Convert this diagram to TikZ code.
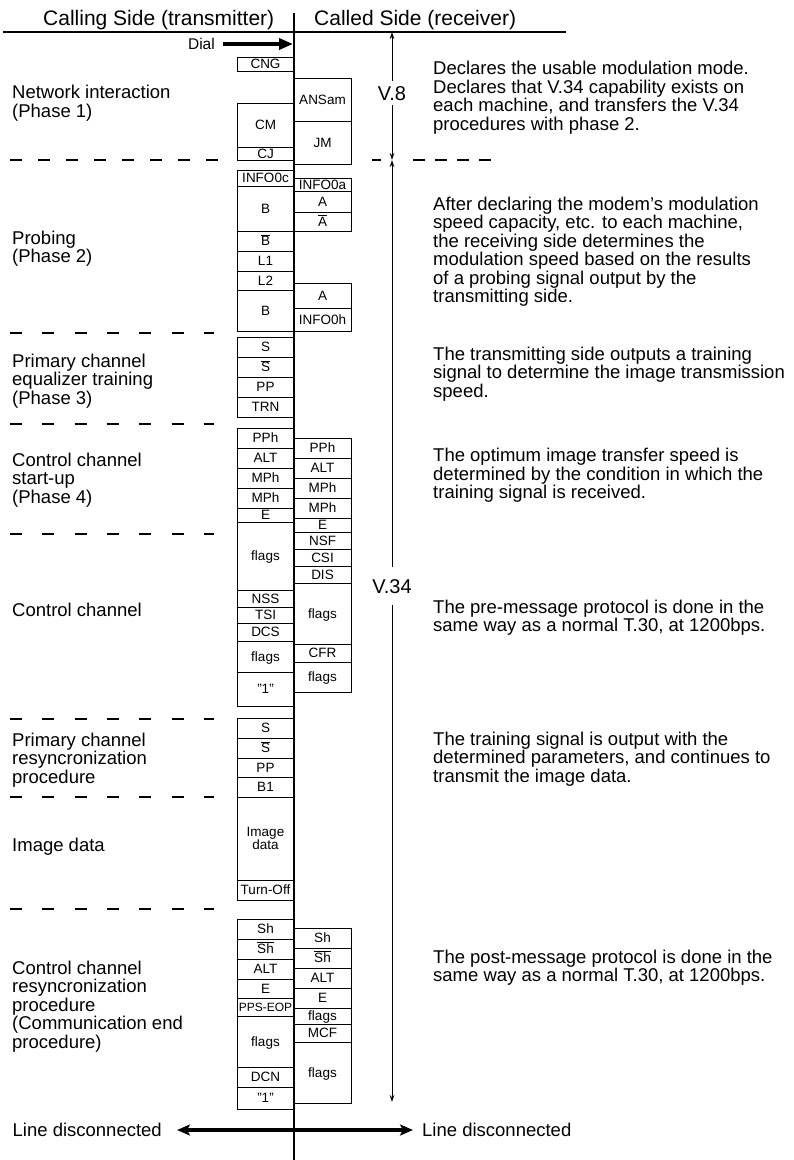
\documentclass[tikz,border=0pt]{standalone}
\usepackage{fontspec}
\setmainfont{Liberation Sans}
\usetikzlibrary{arrows.meta}
\newcommand\LB[4]{\node[bx, minimum height={(#3-#2)*1pt}] (#1) at (265.5,{(#2+#3)/2}) {#4};}
\newcommand\RB[4]{\node[bx, minimum height={(#3-#2)*1pt}] (#1) at (322.5,{(#2+#3)/2}) {#4};}
\newcommand\ovl[1]{$\overline{\mbox{#1}}$}
\begin{document}
\begin{tikzpicture}[x=1pt,y=-1pt,
  bx/.style={draw, line width=0.8pt, inner sep=0pt, minimum width=57pt, text height=9.7pt, text depth=0pt, font=\fontsize{13.5}{14}\selectfont},
  txt/.style={inner sep=0pt, align=left, font=\fontsize{18.5}{18.5}\selectfont, anchor=base west},
  hdr/.style={inner sep=0pt, font=\fontsize{21}{21}\selectfont, anchor=base west},
  vlab/.style={fill=white, inner xsep=1pt, text height=14.3pt, text depth=0pt, font=\fontsize{20}{20}\selectfont},
  dashl/.style={line width=1.2pt, dash pattern=on 12pt off 20.3pt},
  thinarr/.style={line width=0.9pt, {Stealth[length=7pt,width=4.5pt]}-{Stealth[length=7pt,width=4.5pt]}},
  bigarr/.style={line width=4pt}
]
\useasboundingbox[fill=white] (0,0) rectangle (793,1160);

% headers
\node[hdr] (hcall) at (43,25) {Calling Side (transmitter)};
\node[hdr] (hcalled) at (314,25) {Called Side (receiver)};
\coordinate (hl) at (3,32); \coordinate (hr) at (566,32);
\draw[line width=1.3pt] (hl) -- (hr);

% dashed section separators
\draw[line width=1.2pt, dash pattern=on 12pt off 16pt] (10,160) -- (218,160);
\draw[line width=1.2pt] (372,160) -- (381,160);
\draw[line width=1.2pt, dash pattern=on 12pt off 10pt] (413,160) -- (492,160);
\foreach \yy in {333,424,534,719,797,909}{
  \draw[dashl] (10,\yy) -- (214,\yy);
}

% left boxes
\LB{cng}{57}{71}{CNG}
\LB{cm}{103}{147}{CM}
\LB{cj}{147}{160}{CJ}
\LB{info0c}{170}{186}{INFO0c}
\LB{pb1}{186}{231}{B}
\LB{pbbar}{231}{251}{\ovl{B}}
\LB{pl1}{251}{271}{L1}
\LB{pl2}{271}{290}{L2}
\LB{pb2}{290}{331}{B}
\LB{ps}{337}{357}{S}
\LB{psbar}{357}{377}{\ovl{S}}
\LB{ppp}{377}{397}{PP}
\LB{trn}{397}{417}{TRN}
\LB{lpph}{428}{448}{PPh}
\LB{lalt}{448}{468}{ALT}
\LB{lmph1}{468}{488}{MPh}
\LB{lmph2}{488}{508}{MPh}
\LB{le}{508}{522}{E}
\LB{lflags1}{522}{590}{flags}
\LB{nss}{590}{607}{NSS}
\LB{tsi}{607}{623}{TSI}
\LB{dcs}{623}{641}{DCS}
\LB{lflags2}{641}{672}{flags}
\LB{lone1}{672}{706}{"1"}
\LB{rs}{718}{738}{S}
\LB{rsbar}{738}{758}{\ovl{S}}
\LB{rpp}{758}{777}{PP}
\LB{b1}{777}{797}{B1}
\node[draw, line width=0.8pt, inner sep=0pt, minimum width=57pt, minimum height=83pt, align=center, font=\fontsize{13.5}{13.5}\selectfont] (img) at (265.5,838.5) {Image\\data};
\LB{turnoff}{880}{900}{Turn-Off}
\LB{lsh}{919}{939}{Sh}
\LB{lshbar}{939}{959}{\ovl{Sh}}
\LB{lalt2}{959}{979}{ALT}
\LB{le2}{979}{998}{E}
\node[bx, minimum height=18pt, font=\fontsize{12}{12}\selectfont] (ppseop) at (265.5,1007) {PPS-EOP};
\LB{lflags3}{1016}{1067}{flags}
\LB{dcn}{1067}{1087}{DCN}
\LB{lone2}{1087}{1109}{"1"}

% right boxes
\RB{ansam}{78}{121}{ANSam}
\RB{jm}{121}{164}{JM}
\RB{info0a}{178}{191}{INFO0a}
\RB{ra1}{191}{212}{A}
\RB{rabar}{212}{231}{\ovl{A}}
\RB{ra2}{283}{308}{A}
\RB{info0h}{308}{331}{INFO0h}
\RB{rpph}{438}{458}{PPh}
\RB{ralt}{458}{478}{ALT}
\RB{rmph1}{478}{498}{MPh}
\RB{rmph2}{498}{518}{MPh}
\RB{re}{518}{532}{E}
\RB{nsf}{532}{549}{NSF}
\RB{csi}{549}{566}{CSI}
\RB{dis}{566}{583}{DIS}
\RB{rflags1}{583}{644}{flags}
\RB{cfr}{644}{662}{CFR}
\RB{rflags2}{662}{692}{flags}
\RB{rsh}{928}{948}{Sh}
\RB{rshbar}{948}{968}{\ovl{Sh}}
\RB{ralt2}{968}{988}{ALT}
\RB{re2}{988}{1008}{E}
\RB{rflags3}{1008}{1024}{flags}
\RB{mcf}{1024}{1042}{MCF}
\RB{rflags4}{1042}{1103}{flags}

% centre line
\coordinate (ctop) at (294,13); \coordinate (cbot) at (294,1160);
\draw[line width=1.4pt] (ctop) -- (cbot);

% V.8 / V.34 arrows
\coordinate (v8t) at (392,32); \coordinate (vmid) at (392,160); \coordinate (v34b) at (392,1102);
\draw[thinarr] (v8t) -- (vmid);
\draw[thinarr] (vmid) -- (v34b);
\node[vlab, inner ysep=5pt] (v8) at (392,93) {V.8};
\node[vlab, inner ysep=12pt] (v34) at (392,586) {V.34};

% Dial arrow
\node[inner sep=0pt, font=\fontsize{15.5}{15.5}\selectfont, anchor=base east] (dial) at (215,49.5) {Dial};
\coordinate (dialend) at (293,44);
\draw[bigarr, -{Triangle[length=14pt,width=11pt]}] (dial.east |- dialend) ++(8,0) coordinate (dialstart) -- (dialend);

% line disconnected
\node[txt, anchor=base east] (ldl) at (162,1136.6) {Line disconnected};
\node[txt] (ldr) at (422,1136.6) {Line disconnected};
\coordinate (lda) at (177,1130); \coordinate (ldb) at (413,1130);
\draw[bigarr, {Stealth[length=13pt,width=11pt,inset=3pt]}-{Stealth[length=13pt,width=11pt,inset=3pt]}] (lda) -- (ldb);

% left labels (anchor = baseline of last line)
\node[txt] (lab1) at (12,117.1) {Network interaction\\(Phase 1)};
\node[txt] (lab2) at (12,262.5) {Probing\\(Phase 2)};
\node[txt] (lab3) at (12,404) {Primary channel\\equalizer training\\(Phase 3)};
\node[txt] (lab4) at (12,503) {Control channel\\start-up\\(Phase 4)};
\node[txt] (lab5) at (12,616) {Control channel};
\node[txt] (lab6) at (12,783) {Primary channel\\resyncronization\\procedure};
\node[txt] (lab7) at (12,851.6) {Image data};
\node[txt] (lab8) at (12,1048) {Control channel\\resyncronization\\procedure\\(Communication end\\procedure)};

% right descriptions (anchor = baseline of last line)
\node[txt] (d1) at (433,130.1) {Declares the usable modulation mode.\\Declares that V.34 capability exists on\\each machine, and transfers the V.34\\procedures with phase 2.};
\node[txt] (d2) at (433,302.5) {After declaring the modem's modulation\\speed capacity, etc. to each machine,\\the receiving side determines the\\modulation speed based on the results\\of a probing signal output by the\\transmitting side.};
\node[txt] (d3) at (433,397) {The transmitting side outputs a training\\signal to determine the image transmission\\speed.};
\node[txt] (d4) at (433,498.6) {The optimum image transfer speed is\\determined by the condition in which the\\training signal is received.};
\node[txt] (d5) at (433,631.8) {The pre-message protocol is done in the\\same way as a normal T.30, at 1200bps.};
\node[txt] (d6) at (433,782) {The training signal is output with the\\determined parameters, and continues to\\transmit the image data.};
\node[txt] (d7) at (433,981.8) {The post-message protocol is done in the\\same way as a normal T.30, at 1200bps.};
\end{tikzpicture}
\end{document}
